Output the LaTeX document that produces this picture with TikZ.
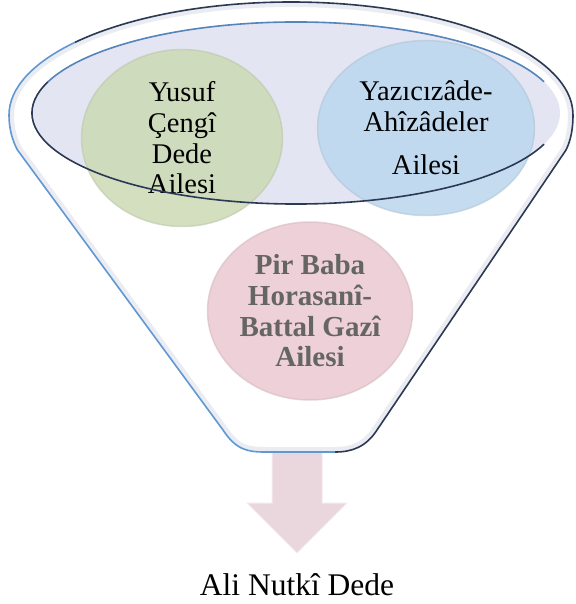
\documentclass[tikz,border=0pt]{standalone}
\usepackage{fontspec}
\setmainfont{Liberation Serif}
\usepackage{tikz}
\usetikzlibrary{shapes.geometric,calc,positioning}
\definecolor{rimnavy}{HTML}{2C3954}
\definecolor{rimblue}{HTML}{5F98D3}
\definecolor{bowl}{HTML}{E3E5F3}
\definecolor{glow}{HTML}{EBECF2}
\definecolor{sage}{HTML}{CCDAB4}
\definecolor{sky}{HTML}{BCD7EE}
\definecolor{rose}{HTML}{ECC9D2}
\definecolor{spoutpink}{HTML}{EAD7DE}
\definecolor{greytext}{HTML}{656565}
\newcommand\funnelpath{(573,115) arc[start angle=0, end angle=-180, x radius=282, y radius=113]
  .. controls (9,128) and (12,140) .. (17.5,150) -- (223,430)
  .. controls (236,450) and (248,452) .. (265,452) -- (335,452)
  .. controls (352,452) and (366,447) .. (377,430) -- (566,150)
  .. controls (571,140) and (573,128) .. (573,115) -- cycle}
\tikzset{
  family/.style={ellipse, inner sep=0pt, align=center, fill opacity=0.85, text opacity=1,
    line width=1.5pt, draw opacity=0.6, font=\fontsize{28.5}{30.7}\selectfont},
  rimline/.style={line width=1.6pt, line join=round}
}
\begin{document}
\begin{tikzpicture}[x=1pt, y=-1pt]
  \useasboundingbox (0,0) rectangle (575,604);
  \coordinate (spout) at (297,452);
  % arrow out of the funnel
  \filldraw[fill=spoutpink, draw=spoutpink!50!white, line width=1pt] (spout) ++(-25,-12) -- ++(50,0) -- ++(0,63)
     -- ++(25,0) -- ++(-50,50) -- ++(-50,-50) -- ++(25,0) -- cycle;
  % the funnel
  \fill[white] \funnelpath;
  \begin{scope}
    \clip \funnelpath;
    \draw[glow, line width=10pt] \funnelpath;
  \end{scope}
  \fill[bowl] (296,113) ellipse[x radius=264, y radius=91];
  \node[family, fill=sage, draw=sage!80!gray, minimum width=201pt, minimum height=177pt] (yusuf) at (182,138)
     {Yusuf\\Çengî\\Dede\\Ailesi};
  \node[family, fill=sky, draw=sky!80!gray, minimum width=217pt, minimum height=175pt] (yazici) at (426,128)
     {Yazıcızâde-\\Ahîzâdeler\\[12.3pt]Ailesi};
  \node[family, fill=rose, draw=rose!80!gray, minimum width=205pt, minimum height=178pt, text=greytext,
     font=\bfseries\fontsize{29}{30.7}\selectfont] (pirbaba) at (310,311)
     {Pir Baba\\Horasanî-\\Battal Gazî\\Ailesi};
  % rim of the bowl
  \draw[rimline, rimblue!80!rimnavy] (296,113) ++(-20:264 and 91) arc[start angle=-20, end angle=-160, x radius=264, y radius=91];
  \draw[rimline, rimnavy] (296,113) ++(-160:264 and 91) arc[start angle=-160, end angle=-340, x radius=264, y radius=91];
  % outline of the funnel
  \draw[rimline, rimnavy] (335,452) .. controls (352,452) and (366,447) .. (377,430) -- (566,150)
     .. controls (571,140) and (573,128) .. (573,115) arc[start angle=0, end angle=-140, x radius=282, y radius=113];
  \draw[rimline, rimblue] (291,115) ++(-140:282 and 113) arc[start angle=-140, end angle=-180, x radius=282, y radius=113]
     .. controls (9,128) and (12,140) .. (17.5,150) -- (223,430)
     .. controls (236,450) and (248,452) .. (265,452) -- (335,452);
  \node[font=\fontsize{31.5}{36}\selectfont, anchor=base] (nutki) at (297,595) {Ali Nutkî Dede};
\end{tikzpicture}
\end{document}
